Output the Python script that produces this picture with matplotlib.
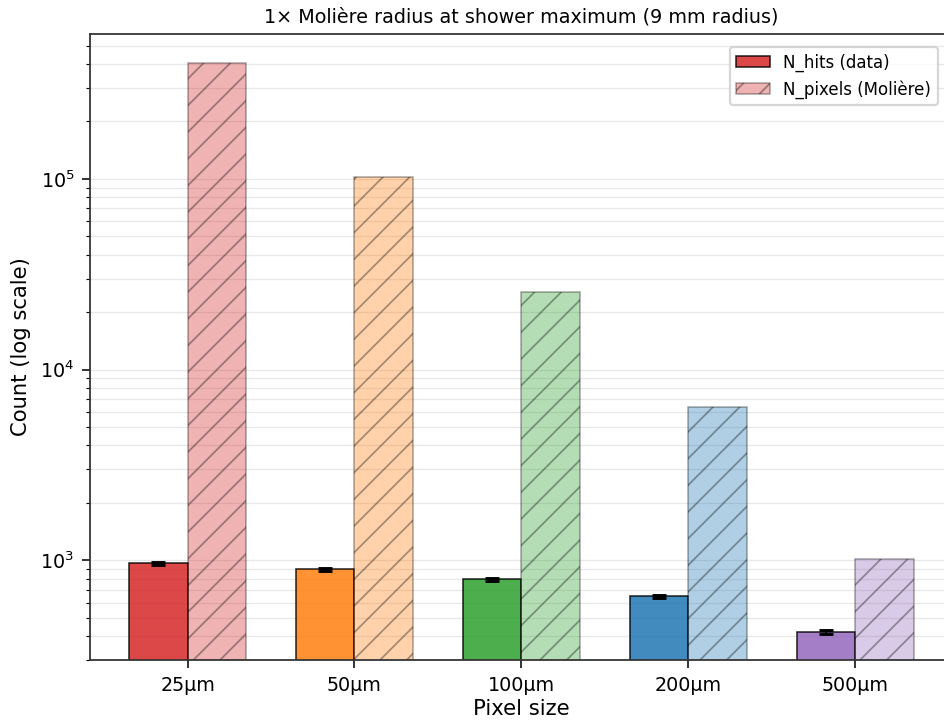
import matplotlib
matplotlib.use("Agg")
import matplotlib.pyplot as plt
import numpy as np

# Pixel pitches and counts inside one Molière radius (9 mm)
pixel_sizes = ["25µm", "50µm", "100µm", "200µm", "500µm"]
n_hits = [964, 897, 794, 649, 420]
n_hits_err = [18, 16, 14, 12, 9]
n_pixels = [407150, 101788, 25447, 6362, 1018]
colors = ["tab:red", "tab:orange", "tab:green", "tab:blue", "tab:purple"]

plt.rcParams["hatch.linewidth"] = 0.8

fig = plt.figure(figsize=(5.9, 4.5), dpi=160)
ax = fig.add_axes([0.0953, 0.0833, 0.914, 0.8695])

x = np.arange(len(pixel_sizes))
width = 0.35

ax.bar(x - width / 2, n_hits, width, yerr=n_hits_err, capsize=3.1,
       color=colors, alpha=0.85, edgecolor="black", linewidth=0.7,
       error_kw=dict(ecolor="black", elinewidth=0.8, capthick=1.3),
       label="N_hits (data)")
ax.bar(x + width / 2, n_pixels, width, color=colors, alpha=0.35,
       edgecolor="black", linewidth=0.7, hatch="//",
       label="N_pixels (Molière)")

ax.set_yscale("log")
ax.set_ylim(300, 575000)
ax.set_xlim(-0.585, 4.585)
ax.set_xticks(x)
ax.set_xticklabels(pixel_sizes)
ax.tick_params(axis="both", labelsize=8.6, width=0.7)
ax.tick_params(axis="y", which="minor", width=0.5)
ax.set_xlabel("Pixel size", fontsize=9.5, labelpad=2)
ax.set_ylabel("Count (log scale)", fontsize=9.5)
ax.set_title("1× Molière radius at shower maximum (9 mm radius)", fontsize=8.6, pad=5)
ax.grid(True, which="both", axis="y", color="#cccccc", alpha=0.45, linewidth=0.6)
ax.set_axisbelow(True)
for s in ax.spines.values():
    s.set_linewidth(0.8)
    s.set_color("#333333")

ax.legend(loc="upper right", fontsize=7.5, bbox_to_anchor=(0.992, 0.993))

fig.savefig("out.png", dpi=160)
